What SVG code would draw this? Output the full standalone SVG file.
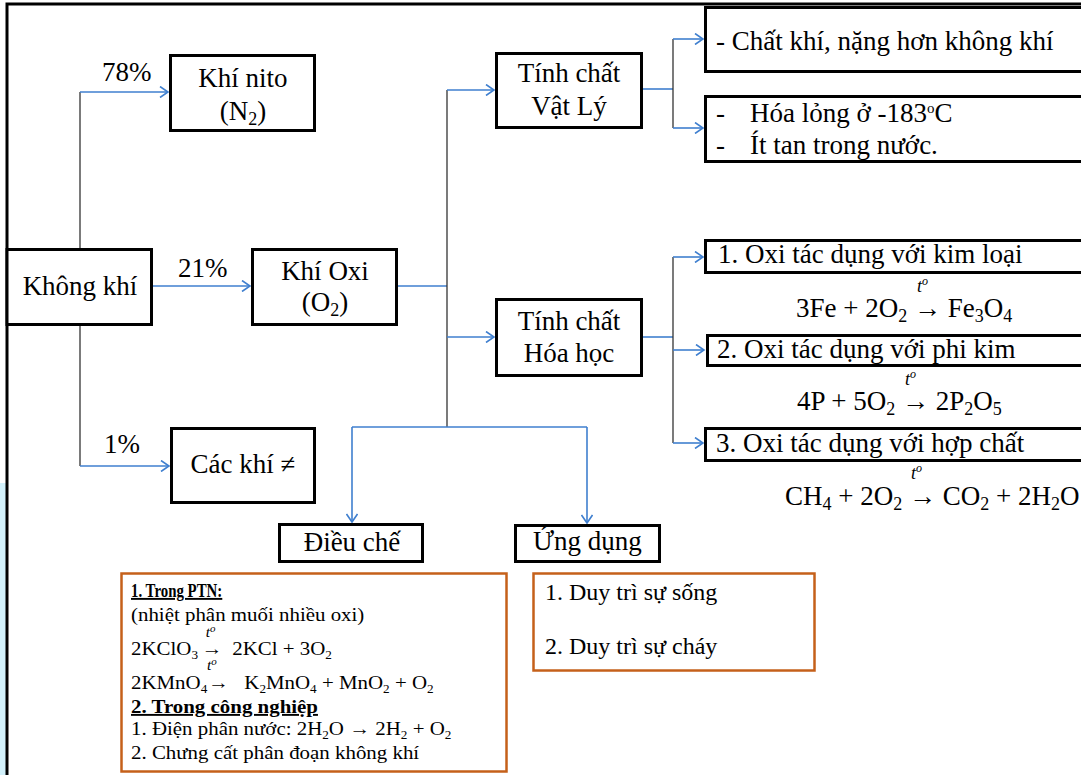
<svg xmlns="http://www.w3.org/2000/svg" width="1081" height="775" viewBox="0 0 1081 775">
<defs>
<style>
text{font-family:"Liberation Serif","Times New Roman",serif;fill:#000}
.t27{font-size:27px}
.c{text-anchor:middle}
.sb{font-size:18px}
.box{fill:#fff;stroke:#000;stroke-width:3}
.obox{fill:#fff;stroke:#c5601a;stroke-width:2.5}
.cb{fill:none;stroke:#3f7fcf;stroke-width:1.6}
.cd{fill:none;stroke:#333;stroke-width:1.3}
.arr{marker-end:url(#ah)}
.sm{font-size:19px}
.sms{font-size:12px}
.u24{font-size:24px}
.to{font-style:italic;font-size:18px}
.tos{font-style:italic;font-size:14px}
</style>
<marker id="ah" markerUnits="userSpaceOnUse" markerWidth="12" markerHeight="12" refX="9" refY="6" orient="auto" viewBox="0 0 12 12">
<path d="M1,0.5 L9,6 L1,11.5" fill="none" stroke="#3f7fcf" stroke-width="1.6"/>
</marker>
</defs>
<rect x="0" y="0" width="1081" height="775" fill="#fff"/>
<rect x="0" y="483" width="6" height="292" fill="#d2f1fb"/>
<path d="M7,775 V4 H1081" fill="none" stroke="#000" stroke-width="3"/>

<g id="connectors">
<path class="cd" d="M80,92 V248"/>
<path class="cb arr" d="M80,92 H168"/>
<path class="cd" d="M80,326 V466"/>
<path class="cb arr" d="M80,466 H169"/>
<path class="cb arr" d="M153,286 H250"/>
<path class="cb" d="M398,286 H447"/>
<path class="cd" d="M447,90 V427"/>
<path class="cb arr" d="M447,90 H494"/>
<path class="cb arr" d="M447,337 H494"/>
<path class="cb" d="M352,427 H587"/>
<path class="cb arr" d="M352,427 V522"/>
<path class="cb arr" d="M587,427 V523"/>
<path class="cb" d="M643,89 H673"/>
<path class="cd" d="M673,39 V128"/>
<path class="cb arr" d="M673,39 H703"/>
<path class="cb arr" d="M673,128 H703"/>
<path class="cb" d="M643,337 H673"/>
<path class="cd" d="M673,257 V443"/>
<path class="cb arr" d="M673,257 H703"/>
<path class="cb arr" d="M673,350 H704"/>
<path class="cb arr" d="M673,443 H703"/>
</g>

<g id="lbl78"><text class="t27" x="102" y="81">78%</text></g>
<g id="lbl21"><text class="t27" x="178" y="277">21%</text></g>
<g id="lbl1"><text class="t27" x="104" y="453">1%</text></g>

<g id="khongkhi">
<rect class="box" x="7" y="249.5" width="144.5" height="75"/>
<text class="t27 c" x="80" y="295">Không khí</text>
</g>
<g id="nito">
<rect class="box" x="170.5" y="55.5" width="144" height="75"/>
<text class="t27 c" x="243" y="87">Khí nito</text>
<text class="t27 c" x="243" y="120">(N<tspan class="sb" dy="5">2</tspan><tspan dy="-5">)</tspan></text>
</g>
<g id="oxi">
<rect class="box" x="252.5" y="249.5" width="144" height="75"/>
<text class="t27 c" x="325" y="280">Khí Oxi</text>
<text class="t27 c" x="325" y="311">(O<tspan class="sb" dy="5">2</tspan><tspan dy="-5">)</tspan></text>
</g>
<g id="khac">
<rect class="box" x="171.5" y="428.5" width="143" height="74"/>
<text class="t27 c" x="243" y="473">Các khí ≠</text>
</g>
<g id="vatly">
<rect class="box" x="496.5" y="53.5" width="145" height="74"/>
<text class="t27 c" x="569" y="82">Tính chất</text>
<text class="t27 c" x="569" y="115">Vật Lý</text>
</g>
<g id="hoahoc">
<rect class="box" x="496.5" y="299.5" width="145" height="76"/>
<text class="t27 c" x="569" y="330">Tính chất</text>
<text class="t27 c" x="569" y="362">Hóa học</text>
</g>
<g id="chatkhi">
<rect class="box" x="705.5" y="7.5" width="400" height="64"/>
<text class="t27" x="716" y="50">- Chất khí, nặng hơn không khí</text>
</g>
<g id="hoalong">
<rect class="box" x="705.5" y="96.5" width="400" height="65"/>
<text class="t27" x="716" y="122">-</text>
<text class="t27" x="750" y="122">Hóa lỏng ở -183<tspan font-size="15" dy="-9">o</tspan><tspan dy="9">C</tspan></text>
<text class="t27" x="716" y="154">-</text>
<text class="t27" x="750" y="154">Ít tan trong nước.</text>
</g>
<g id="pu1">
<rect class="box" x="705.5" y="240.5" width="400" height="32"/>
<text class="t27" x="718" y="263">1. Oxi tác dụng với kim loại</text>
</g>
<g id="eq1">
<text class="to" x="917" y="292">t<tspan font-size="12" dy="-7">o</tspan></text>
<text class="t27" x="796" y="317">3Fe + 2O<tspan class="sb" dy="5">2</tspan><tspan dy="-5"> → Fe</tspan><tspan class="sb" dy="5">3</tspan><tspan dy="-5">O</tspan><tspan class="sb" dy="5">4</tspan></text>
</g>
<g id="pu2">
<rect class="box" x="707.5" y="335.5" width="400" height="30"/>
<text class="t27" x="717" y="358">2. Oxi tác dụng với phi kim</text>
</g>
<g id="eq2">
<text class="to" x="905" y="385">t<tspan font-size="12" dy="-7">o</tspan></text>
<text class="t27" x="797" y="410">4P + 5O<tspan class="sb" dy="5">2</tspan><tspan dy="-5"> → 2P</tspan><tspan class="sb" dy="5">2</tspan><tspan dy="-5">O</tspan><tspan class="sb" dy="5">5</tspan></text>
</g>
<g id="pu3">
<rect class="box" x="705.5" y="428.5" width="400" height="32"/>
<text class="t27" x="716" y="452">3. Oxi tác dụng với hợp chất</text>
</g>
<g id="eq3">
<text class="to" x="911" y="479">t<tspan font-size="12" dy="-7">o</tspan></text>
<text class="t27" x="785" y="505">CH<tspan class="sb" dy="5">4</tspan><tspan dy="-5"> + 2O</tspan><tspan class="sb" dy="5">2</tspan><tspan dy="-5"> → CO</tspan><tspan class="sb" dy="5">2</tspan><tspan dy="-5"> + 2H</tspan><tspan class="sb" dy="5">2</tspan><tspan dy="-5">O</tspan></text>
</g>

<g id="dieuche">
<rect class="box" x="279.5" y="524.5" width="143" height="37"/>
<text class="t27 c" x="352" y="551">Điều chế</text>
</g>
<g id="ungdung">
<rect class="box" x="515.5" y="525.5" width="144" height="36"/>
<text class="t27" x="533" y="550">Ứng dụng</text>
</g>

<g id="dieuche-detail">
<rect class="obox" x="121.5" y="573.5" width="385" height="198"/>
<g transform="translate(131,0) scale(1.1,1)">
<text class="sm" x="0" y="597" font-weight="bold" text-decoration="underline" textLength="83" lengthAdjust="spacingAndGlyphs">1. Trong PTN:</text>
<text class="sm" x="0" y="621">(nhiệt phân muối nhiều oxi)</text>
<text class="tos" x="68" y="637">t<tspan font-size="10" dy="-5">o</tspan></text>
<text class="sm" x="0" y="655">2KClO<tspan class="sms" dy="4">3</tspan></text>
<text class="sm" x="64" y="655">→</text>
<text class="sm" x="92" y="655">2KCl + 3O<tspan class="sms" dy="4">2</tspan></text>
<text class="tos" x="69" y="670">t<tspan font-size="10" dy="-5">o</tspan></text>
<text class="sm" x="0" y="689">2KMnO<tspan class="sms" dy="4">4</tspan></text>
<text class="sm" x="70" y="689">→</text>
<text class="sm" x="103" y="689">K<tspan class="sms" dy="4">2</tspan><tspan dy="-4">MnO</tspan><tspan class="sms" dy="4">4</tspan><tspan dy="-4"> + MnO</tspan><tspan class="sms" dy="4">2</tspan><tspan dy="-4"> + O</tspan><tspan class="sms" dy="4">2</tspan></text>
<text class="sm" x="0" y="713" font-weight="bold" text-decoration="underline">2. Trong công nghiệp</text>
<text class="sm" x="0" y="735">1. Điện phân nước: 2H<tspan class="sms" dy="4">2</tspan><tspan dy="-4">O → 2H</tspan><tspan class="sms" dy="4">2</tspan><tspan dy="-4"> + O</tspan><tspan class="sms" dy="4">2</tspan></text>
<text class="sm" x="0" y="759">2. Chưng cất phân đoạn không khí</text>
</g>
</g>

<g id="ungdung-detail">
<rect class="obox" x="533.5" y="573.5" width="281" height="97"/>
<text class="u24" x="545" y="600">1. Duy trì sự sống</text>
<text class="u24" x="545" y="654">2. Duy trì sự cháy</text>
</g>
</svg>
